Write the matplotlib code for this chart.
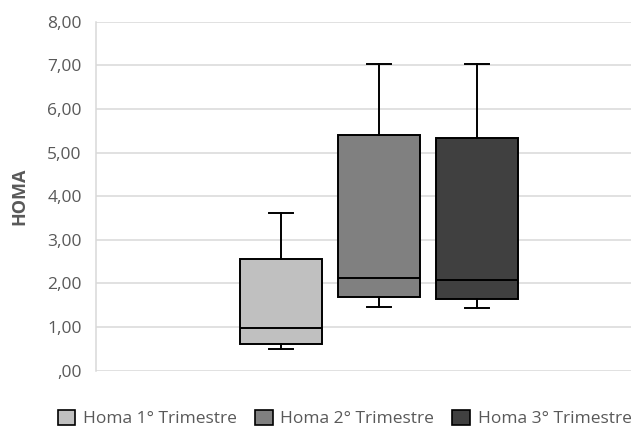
import matplotlib
matplotlib.use('Agg')
from matplotlib import pyplot as plt
from matplotlib.patches import Patch

# data
series = ['Homa 1° Trimestre', 'Homa 2° Trimestre', 'Homa 3° Trimestre']
whislo = [0.50, 1.47, 1.43]
q1 = [0.62, 1.68, 1.64]
med = [0.97, 2.12, 2.08]
q3 = [2.56, 5.41, 5.33]
whishi = [3.62, 7.02, 7.02]
yticks = [0, 1, 2, 3, 4, 5, 6, 7, 8]
yticklabels = [',00', '1,00', '2,00', '3,00', '4,00', '5,00', '6,00', '7,00', '8,00']
colors = ['#c0c0c0', '#808080', '#404040']

plt.rcParams['font.family'] = ['Open Sans', 'DejaVu Sans']
txt = '#595959'

fig = plt.figure(figsize=(6.31, 4.30), dpi=100)
ax = fig.add_axes([0.1517, 0.1379, 0.8483, 0.8116])

stats = []
for i in range(len(series)):
    stats.append(dict(label=series[i], whislo=whislo[i], q1=q1[i], med=med[i],
                      q3=q3[i], whishi=whishi[i], fliers=[]))

pos = [1, 2, 3]
bp = ax.bxp(stats, positions=pos, widths=0.84, patch_artist=True,
            showfliers=False, capwidths=0.25,
            boxprops=dict(edgecolor='black', linewidth=1.4),
            medianprops=dict(color='black', linewidth=1.4),
            whiskerprops=dict(color='black', linewidth=1.4),
            capprops=dict(color='black', linewidth=1.4))
for patch, c in zip(bp['boxes'], colors):
    patch.set_facecolor(c)
    patch.set_zorder(3)
for k in ['medians', 'whiskers', 'caps']:
    for l in bp[k]:
        l.set_zorder(3)

ax.set_xlim(-0.889, 4.573)
ax.set_ylim(0, 8)
ax.set_yticks(yticks)
ax.set_yticklabels(yticklabels, fontsize=12.5, color=txt)
ax.set_xticks([])
ax.tick_params(axis='y', length=0, pad=10)
ax.yaxis.grid(True, color='#d9d9d9', linewidth=1.1, zorder=0)
ax.set_axisbelow(True)
for s in ['top', 'right', 'bottom']:
    ax.spines[s].set_visible(False)
ax.spines['left'].set_color('#d9d9d9')
ax.spines['left'].set_linewidth(1.1)

ax.set_ylabel('HOMA', fontsize=13, fontweight='bold', color=txt, labelpad=14)

handles = [Patch(facecolor=c, edgecolor='black', linewidth=1.2) for c in colors]
fig.legend(handles, series, loc='lower left', bbox_to_anchor=(0.067, -0.03),
           ncol=3, frameon=False, fontsize=12.5, labelcolor=txt,
           handlelength=1.0, handleheight=1.0, handletextpad=0.45,
           columnspacing=1.05)

plt.savefig('out.png', dpi=100)
